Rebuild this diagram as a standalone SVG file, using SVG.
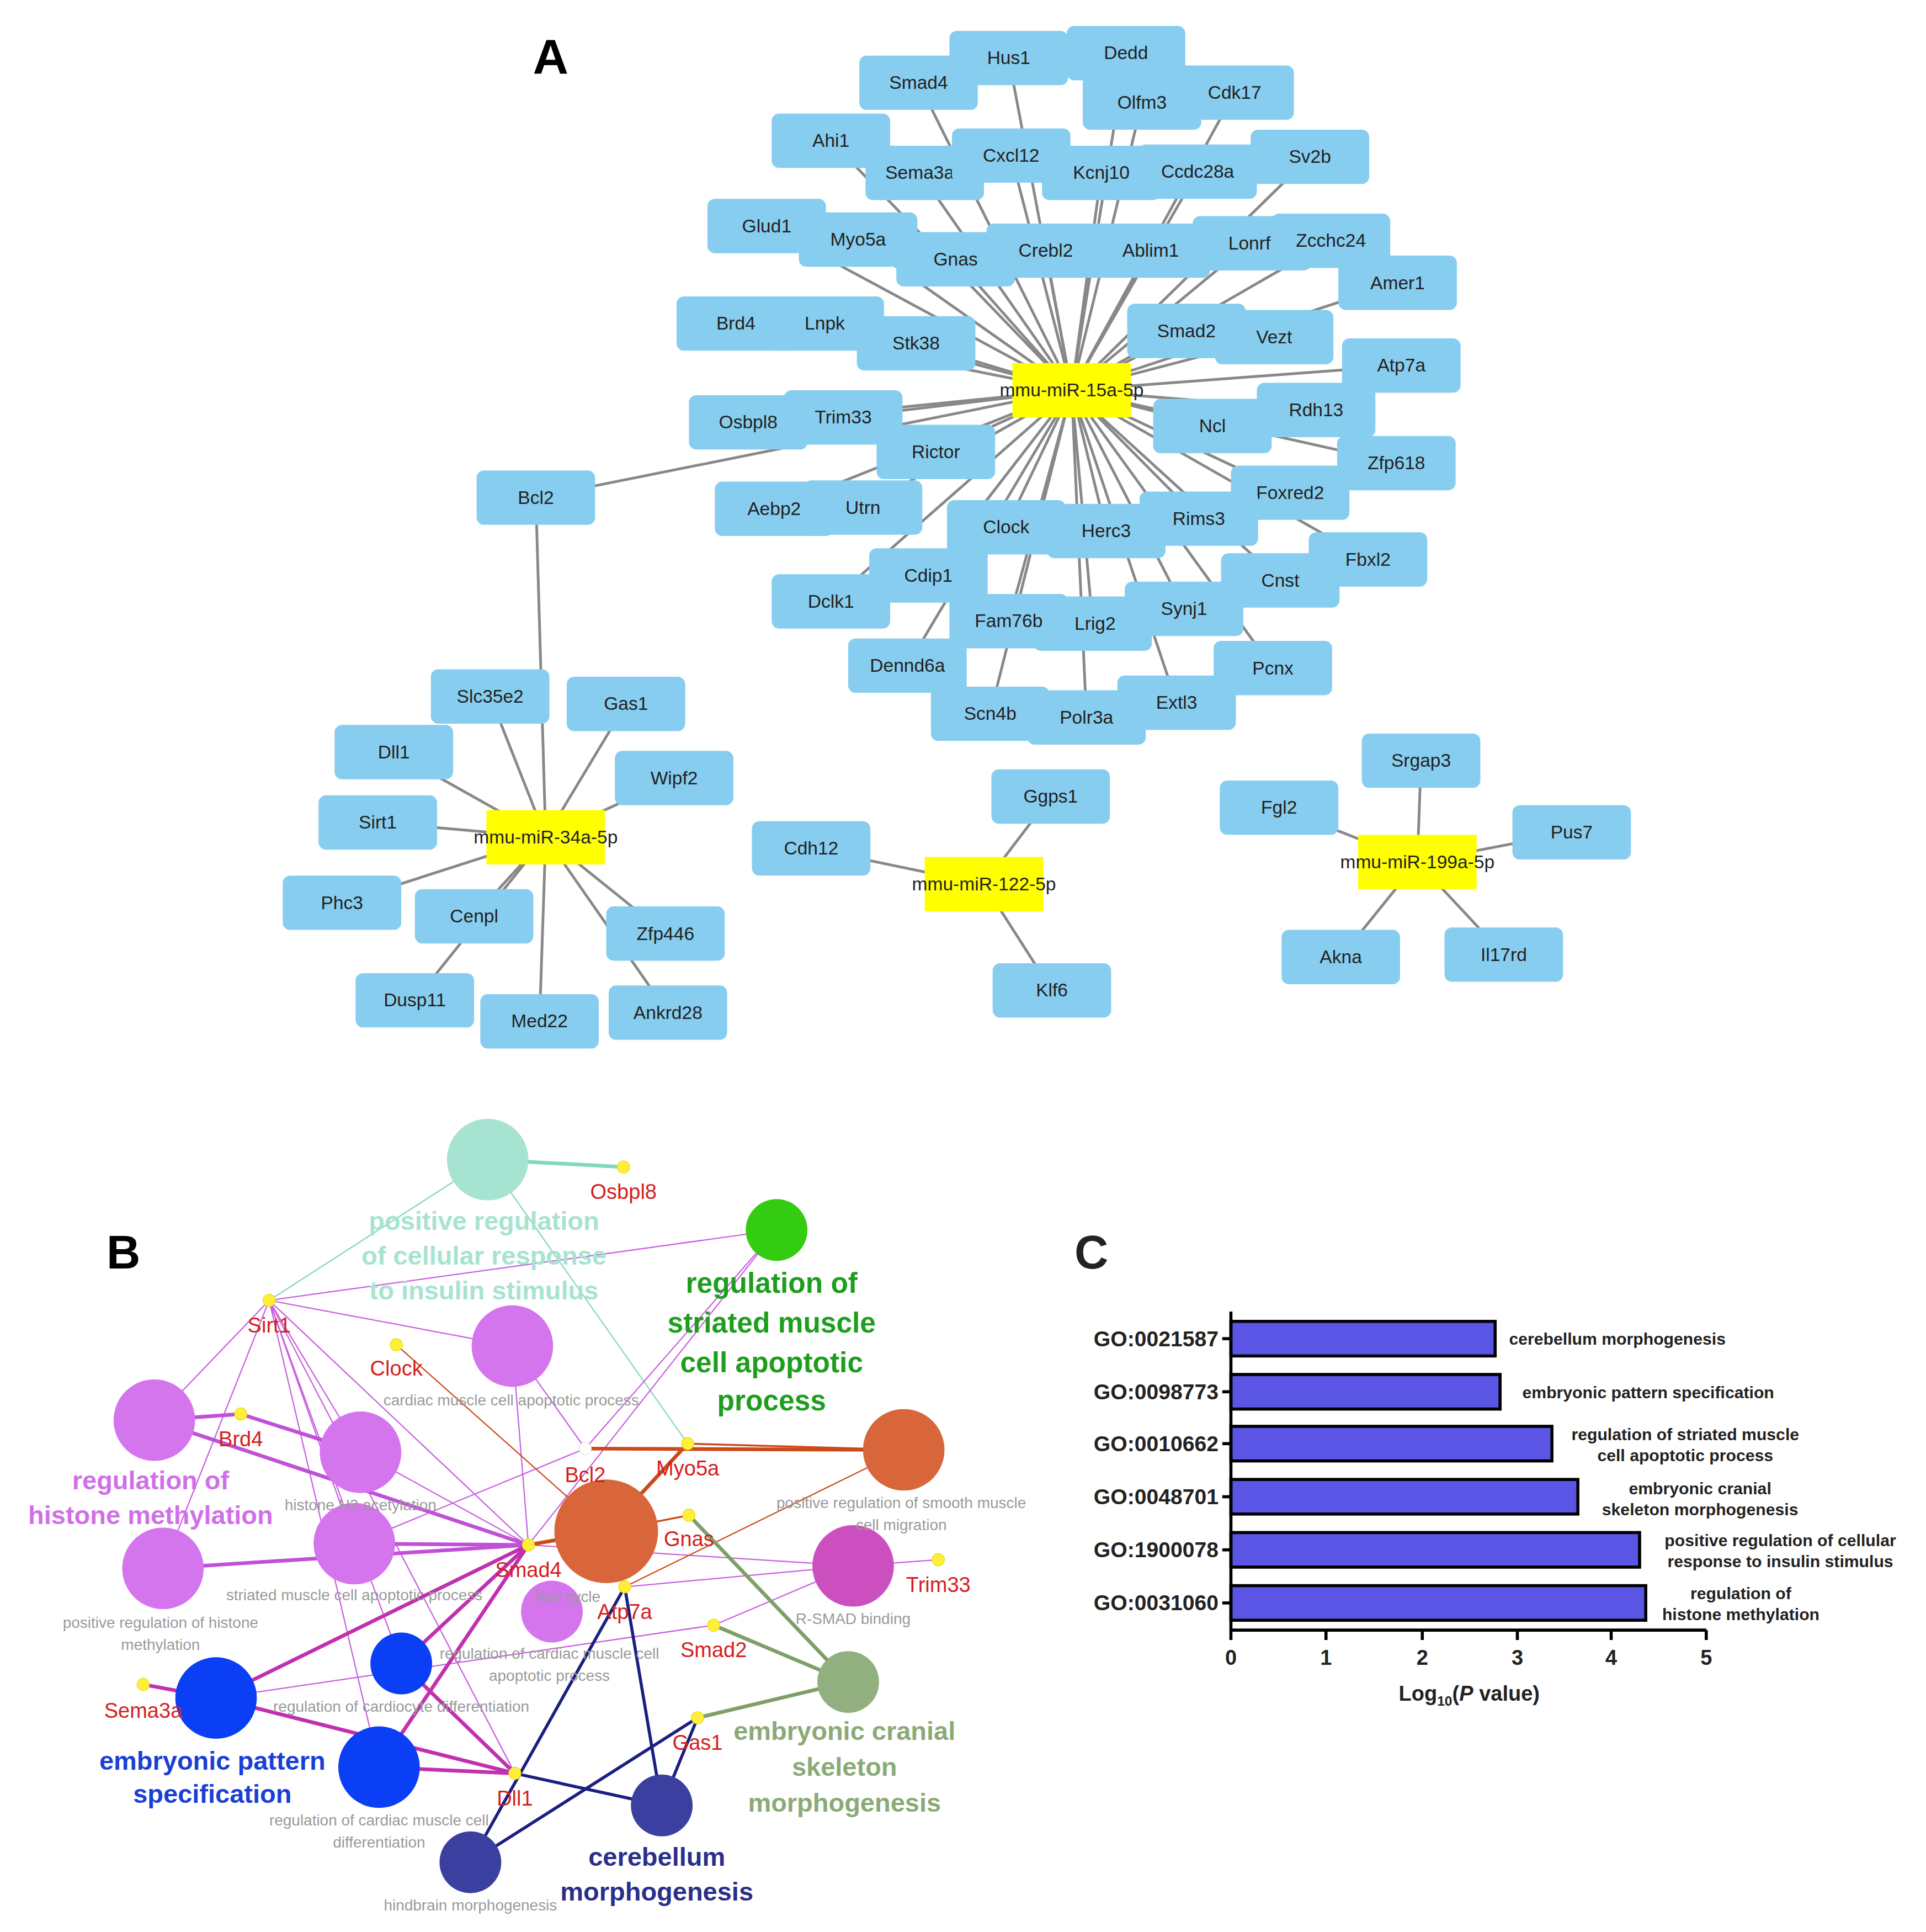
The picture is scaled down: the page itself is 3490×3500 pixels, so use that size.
<svg xmlns="http://www.w3.org/2000/svg" width="3490" height="3500" viewBox="0 0 3490 3500">
<style>
.n rect{fill:#87cdf0;rx:6px}
.h rect{fill:#ffff00}
.n text,.h text{font-family:"Liberation Sans",Arial,sans-serif;font-size:15px;text-anchor:middle;fill:#222}
.ea line{stroke:#888;stroke-width:2.2}
.lab{font-family:"Liberation Sans",Arial,sans-serif;font-weight:bold;text-anchor:middle}
.rd{font-family:"Liberation Sans",Arial,sans-serif;font-size:17px;fill:#d42020;text-anchor:middle}
.gr{font-family:"Liberation Sans",Arial,sans-serif;font-size:12.5px;fill:#9a9a9a;text-anchor:middle}
.dot{fill:#ffef3a;stroke:#e8d800;stroke-width:0.5}
.c text{font-family:"Liberation Sans",Arial,sans-serif;font-weight:bold;fill:#222}
</style>
<rect width="3490" height="3500" fill="#fff"/>
<g transform="scale(2.2372)">
<text x="446" y="60" class="lab" font-size="40" fill="#000">A</text>
<g class="ea" id="edgesA">
<line x1="868" y1="316" x2="817" y2="47"/><line x1="868" y1="316" x2="912" y2="43"/><line x1="868" y1="316" x2="744" y2="67"/><line x1="868" y1="316" x2="925" y2="83"/><line x1="868" y1="316" x2="1000" y2="75"/><line x1="868" y1="316" x2="673" y2="114"/><line x1="868" y1="316" x2="745" y2="140"/><line x1="868" y1="316" x2="819" y2="126"/><line x1="868" y1="316" x2="892" y2="140"/><line x1="868" y1="316" x2="970" y2="139"/><line x1="868" y1="316" x2="1061" y2="127"/><line x1="868" y1="316" x2="621" y2="183"/><line x1="868" y1="316" x2="695" y2="194"/><line x1="868" y1="316" x2="774" y2="210"/><line x1="868" y1="316" x2="847" y2="203"/><line x1="868" y1="316" x2="932" y2="203"/><line x1="868" y1="316" x2="1012" y2="197"/><line x1="868" y1="316" x2="1078" y2="195"/><line x1="868" y1="316" x2="1132" y2="229"/><line x1="868" y1="316" x2="596" y2="262"/><line x1="868" y1="316" x2="668" y2="262"/><line x1="868" y1="316" x2="742" y2="278"/><line x1="868" y1="316" x2="961" y2="268"/><line x1="868" y1="316" x2="1032" y2="273"/><line x1="868" y1="316" x2="1135" y2="296"/><line x1="868" y1="316" x2="606" y2="342"/><line x1="868" y1="316" x2="683" y2="338"/><line x1="868" y1="316" x2="982" y2="345"/><line x1="868" y1="316" x2="1066" y2="332"/><line x1="868" y1="316" x2="1131" y2="375"/><line x1="868" y1="316" x2="758" y2="366"/><line x1="868" y1="316" x2="434" y2="403"/><line x1="868" y1="316" x2="627" y2="412"/><line x1="868" y1="316" x2="699" y2="411"/><line x1="868" y1="316" x2="1045" y2="399"/><line x1="868" y1="316" x2="815" y2="427"/><line x1="868" y1="316" x2="896" y2="430"/><line x1="868" y1="316" x2="971" y2="420"/><line x1="868" y1="316" x2="1108" y2="453"/><line x1="868" y1="316" x2="752" y2="466"/><line x1="868" y1="316" x2="673" y2="487"/><line x1="868" y1="316" x2="1037" y2="470"/><line x1="868" y1="316" x2="959" y2="493"/><line x1="868" y1="316" x2="817" y2="503"/><line x1="868" y1="316" x2="885" y2="505"/><line x1="868" y1="316" x2="735" y2="539"/><line x1="868" y1="316" x2="1031" y2="541"/><line x1="868" y1="316" x2="953" y2="569"/><line x1="868" y1="316" x2="802" y2="578"/><line x1="868" y1="316" x2="880" y2="581"/>
<line x1="442" y1="678" x2="434" y2="403"/><line x1="442" y1="678" x2="397" y2="564"/><line x1="442" y1="678" x2="507" y2="570"/><line x1="442" y1="678" x2="319" y2="609"/><line x1="442" y1="678" x2="546" y2="630"/><line x1="442" y1="678" x2="306" y2="666"/><line x1="442" y1="678" x2="277" y2="731"/><line x1="442" y1="678" x2="384" y2="742"/><line x1="442" y1="678" x2="539" y2="756"/><line x1="442" y1="678" x2="336" y2="810"/><line x1="442" y1="678" x2="437" y2="827"/><line x1="442" y1="678" x2="541" y2="820"/>
<line x1="797" y1="716" x2="657" y2="687"/><line x1="797" y1="716" x2="851" y2="645"/><line x1="797" y1="716" x2="852" y2="802"/>
<line x1="1148" y1="698" x2="1151" y2="616"/><line x1="1148" y1="698" x2="1036" y2="654"/><line x1="1148" y1="698" x2="1273" y2="674"/><line x1="1148" y1="698" x2="1086" y2="775"/><line x1="1148" y1="698" x2="1218" y2="773"/>
</g>
<g id="nodesA">
<g class="n" id="Hus1"><rect x="769" y="25" width="96" height="44"/><text x="817" y="52">Hus1</text></g>
<g class="n" id="Dedd"><rect x="864" y="21" width="96" height="44"/><text x="912" y="48">Dedd</text></g>
<g class="n" id="Smad4"><rect x="696" y="45" width="96" height="44"/><text x="744" y="72">Smad4</text></g>
<g class="n" id="Olfm3"><rect x="877" y="61" width="96" height="44"/><text x="925" y="88">Olfm3</text></g>
<g class="n" id="Cdk17"><rect x="952" y="53" width="96" height="44"/><text x="1000" y="80">Cdk17</text></g>
<g class="n" id="Ahi1"><rect x="625" y="92" width="96" height="44"/><text x="673" y="119">Ahi1</text></g>
<g class="n" id="Sema3a"><rect x="701" y="118" width="96" height="44"/><text x="745" y="145">Sema3a</text></g>
<g class="n" id="Cxcl12"><rect x="771" y="104" width="96" height="44"/><text x="819" y="131">Cxcl12</text></g>
<g class="n" id="Kcnj10"><rect x="844" y="118" width="96" height="44"/><text x="892" y="145">Kcnj10</text></g>
<g class="n" id="Ccdc28a"><rect x="922" y="117" width="96" height="44"/><text x="970" y="144">Ccdc28a</text></g>
<g class="n" id="Sv2b"><rect x="1013" y="105" width="96" height="44"/><text x="1061" y="132">Sv2b</text></g>
<g class="n" id="Glud1"><rect x="573" y="161" width="96" height="44"/><text x="621" y="188">Glud1</text></g>
<g class="n" id="Myo5a"><rect x="647" y="172" width="96" height="44"/><text x="695" y="199">Myo5a</text></g>
<g class="n" id="Gnas"><rect x="726" y="188" width="96" height="44"/><text x="774" y="215">Gnas</text></g>
<g class="n" id="Crebl2"><rect x="799" y="181" width="96" height="44"/><text x="847" y="208">Crebl2</text></g>
<g class="n" id="Ablim1"><rect x="884" y="181" width="96" height="44"/><text x="932" y="208">Ablim1</text></g>
<g class="n" id="Lonrf"><rect x="966" y="175" width="96" height="44"/><text x="1012" y="202">Lonrf</text></g>
<g class="n" id="Zcchc24"><rect x="1030" y="173" width="96" height="44"/><text x="1078" y="200">Zcchc24</text></g>
<g class="n" id="Amer1"><rect x="1084" y="207" width="96" height="44"/><text x="1132" y="234">Amer1</text></g>
<g class="n" id="Brd4"><rect x="548" y="240" width="96" height="44"/><text x="596" y="267">Brd4</text></g>
<g class="n" id="Lnpk"><rect x="620" y="240" width="96" height="44"/><text x="668" y="267">Lnpk</text></g>
<g class="n" id="Stk38"><rect x="694" y="256" width="96" height="44"/><text x="742" y="283">Stk38</text></g>
<g class="n" id="Smad2"><rect x="913" y="246" width="96" height="44"/><text x="961" y="273">Smad2</text></g>
<g class="n" id="Vezt"><rect x="984" y="251" width="96" height="44"/><text x="1032" y="278">Vezt</text></g>
<g class="n" id="Atp7a"><rect x="1087" y="274" width="96" height="44"/><text x="1135" y="301">Atp7a</text></g>
<g class="n" id="Osbpl8"><rect x="558" y="320" width="96" height="44"/><text x="606" y="347">Osbpl8</text></g>
<g class="n" id="Trim33"><rect x="635" y="316" width="96" height="44"/><text x="683" y="343">Trim33</text></g>
<g class="n" id="Ncl"><rect x="934" y="323" width="96" height="44"/><text x="982" y="350">Ncl</text></g>
<g class="n" id="Rdh13"><rect x="1018" y="310" width="96" height="44"/><text x="1066" y="337">Rdh13</text></g>
<g class="n" id="Zfp618"><rect x="1083" y="353" width="96" height="44"/><text x="1131" y="380">Zfp618</text></g>
<g class="n" id="Rictor"><rect x="710" y="344" width="96" height="44"/><text x="758" y="371">Rictor</text></g>
<g class="n" id="Aebp2"><rect x="579" y="390" width="96" height="44"/><text x="627" y="417">Aebp2</text></g>
<g class="n" id="Utrn"><rect x="651" y="389" width="96" height="44"/><text x="699" y="416">Utrn</text></g>
<g class="n" id="Foxred2"><rect x="997" y="377" width="96" height="44"/><text x="1045" y="404">Foxred2</text></g>
<g class="n" id="Clock"><rect x="767" y="405" width="96" height="44"/><text x="815" y="432">Clock</text></g>
<g class="n" id="Herc3"><rect x="848" y="408" width="96" height="44"/><text x="896" y="435">Herc3</text></g>
<g class="n" id="Rims3"><rect x="923" y="398" width="96" height="44"/><text x="971" y="425">Rims3</text></g>
<g class="n" id="Fbxl2"><rect x="1060" y="431" width="96" height="44"/><text x="1108" y="458">Fbxl2</text></g>
<g class="n" id="Cdip1"><rect x="704" y="444" width="96" height="44"/><text x="752" y="471">Cdip1</text></g>
<g class="n" id="Dclk1"><rect x="625" y="465" width="96" height="44"/><text x="673" y="492">Dclk1</text></g>
<g class="n" id="Cnst"><rect x="989" y="448" width="96" height="44"/><text x="1037" y="475">Cnst</text></g>
<g class="n" id="Synj1"><rect x="911" y="471" width="96" height="44"/><text x="959" y="498">Synj1</text></g>
<g class="n" id="Lrig2"><rect x="837" y="483" width="96" height="44"/><text x="887" y="510">Lrig2</text></g>
<g class="n" id="Fam76b"><rect x="769" y="481" width="96" height="44"/><text x="817" y="508">Fam76b</text></g>
<g class="n" id="Dennd6a"><rect x="687" y="517" width="96" height="44"/><text x="735" y="544">Dennd6a</text></g>
<g class="n" id="Pcnx"><rect x="983" y="519" width="96" height="44"/><text x="1031" y="546">Pcnx</text></g>
<g class="n" id="Extl3"><rect x="905" y="547" width="96" height="44"/><text x="953" y="574">Extl3</text></g>
<g class="n" id="Scn4b"><rect x="754" y="556" width="96" height="44"/><text x="802" y="583">Scn4b</text></g>
<g class="n" id="Polr3a"><rect x="832" y="559" width="96" height="44"/><text x="880" y="586">Polr3a</text></g>
<g class="h" id="miR15a"><rect x="820" y="294" width="96" height="44"/><text x="868" y="321">mmu-miR-15a-5p</text></g>
<g class="n" id="Bcl2"><rect x="386" y="381" width="96" height="44"/><text x="434" y="408">Bcl2</text></g>
<g class="n" id="Slc35e2"><rect x="349" y="542" width="96" height="44"/><text x="397" y="569">Slc35e2</text></g>
<g class="n" id="Gas1"><rect x="459" y="548" width="96" height="44"/><text x="507" y="575">Gas1</text></g>
<g class="n" id="Dll1"><rect x="271" y="587" width="96" height="44"/><text x="319" y="614">Dll1</text></g>
<g class="n" id="Wipf2"><rect x="498" y="608" width="96" height="44"/><text x="546" y="635">Wipf2</text></g>
<g class="n" id="Sirt1"><rect x="258" y="644" width="96" height="44"/><text x="306" y="671">Sirt1</text></g>
<g class="n" id="Phc3"><rect x="229" y="709" width="96" height="44"/><text x="277" y="736">Phc3</text></g>
<g class="n" id="Cenpl"><rect x="336" y="720" width="96" height="44"/><text x="384" y="747">Cenpl</text></g>
<g class="n" id="Zfp446"><rect x="491" y="734" width="96" height="44"/><text x="539" y="761">Zfp446</text></g>
<g class="n" id="Dusp11"><rect x="288" y="788" width="96" height="44"/><text x="336" y="815">Dusp11</text></g>
<g class="n" id="Med22"><rect x="389" y="805" width="96" height="44"/><text x="437" y="832">Med22</text></g>
<g class="n" id="Ankrd28"><rect x="493" y="798" width="96" height="44"/><text x="541" y="825">Ankrd28</text></g>
<g class="h" id="miR34a"><rect x="394" y="656" width="96" height="44"/><text x="442" y="683">mmu-miR-34a-5p</text></g>
<g class="n" id="Cdh12"><rect x="609" y="665" width="96" height="44"/><text x="657" y="692">Cdh12</text></g>
<g class="n" id="Ggps1"><rect x="803" y="623" width="96" height="44"/><text x="851" y="650">Ggps1</text></g>
<g class="n" id="Klf6"><rect x="804" y="780" width="96" height="44"/><text x="852" y="807">Klf6</text></g>
<g class="h" id="miR122"><rect x="749" y="694" width="96" height="44"/><text x="797" y="721">mmu-miR-122-5p</text></g>
<g class="n" id="Srgap3"><rect x="1103" y="594" width="96" height="44"/><text x="1151" y="621">Srgap3</text></g>
<g class="n" id="Fgl2"><rect x="988" y="632" width="96" height="44"/><text x="1036" y="659">Fgl2</text></g>
<g class="n" id="Pus7"><rect x="1225" y="652" width="96" height="44"/><text x="1273" y="679">Pus7</text></g>
<g class="n" id="Akna"><rect x="1038" y="753" width="96" height="44"/><text x="1086" y="780">Akna</text></g>
<g class="n" id="Il17rd"><rect x="1170" y="751" width="96" height="44"/><text x="1218" y="778">Il17rd</text></g>
<g class="h" id="miR199a"><rect x="1100" y="676" width="96" height="44"/><text x="1148" y="703">mmu-miR-199a-5p</text></g>
</g>

<text x="100" y="1027" class="lab" font-size="38" fill="#000">B</text>
<g id="edgesB" fill="none" stroke-linecap="round">
<g stroke="#80d8c0"><line x1="395" y1="939" x2="505" y2="945" stroke-width="3"/><line x1="395" y1="939" x2="218" y2="1053" stroke-width="1"/><line x1="395" y1="939" x2="557" y2="1169" stroke-width="1"/></g>
<g stroke="#c860e0" stroke-width="1">
<line x1="218" y1="1053" x2="629" y2="996"/><line x1="218" y1="1053" x2="415" y2="1090"/><line x1="218" y1="1053" x2="125" y2="1150"/><line x1="218" y1="1053" x2="132" y2="1270"/><line x1="218" y1="1053" x2="292" y2="1176"/><line x1="218" y1="1053" x2="287" y2="1250"/><line x1="218" y1="1053" x2="428" y2="1251"/><line x1="218" y1="1053" x2="325" y2="1347"/><line x1="218" y1="1053" x2="307" y2="1431"/><line x1="218" y1="1053" x2="417" y2="1436"/>
<line x1="428" y1="1251" x2="629" y2="996"/><line x1="474" y1="1173" x2="629" y2="996"/><line x1="428" y1="1251" x2="415" y2="1090"/><line x1="474" y1="1173" x2="415" y2="1090"/><line x1="428" y1="1251" x2="691" y2="1268"/><line x1="428" y1="1251" x2="292" y2="1176"/><line x1="474" y1="1173" x2="287" y2="1250"/><line x1="578" y1="1316" x2="175" y2="1375"/><line x1="760" y1="1263" x2="691" y2="1268"/><line x1="506" y1="1285" x2="691" y2="1268"/><line x1="578" y1="1316" x2="691" y2="1268"/>
</g>
<g stroke="#c050d8" stroke-width="3"><line x1="195" y1="1145" x2="125" y2="1150"/><line x1="195" y1="1145" x2="292" y2="1176"/><line x1="125" y1="1150" x2="428" y2="1251"/><line x1="132" y1="1270" x2="428" y2="1251"/><line x1="287" y1="1250" x2="428" y2="1251"/></g>
<g stroke="#c030b0" stroke-width="3"><line x1="428" y1="1251" x2="175" y2="1375"/><line x1="428" y1="1251" x2="307" y2="1431"/><line x1="428" y1="1251" x2="325" y2="1347"/><line x1="116" y1="1364" x2="175" y2="1375"/><line x1="175" y1="1375" x2="417" y2="1436"/><line x1="307" y1="1431" x2="417" y2="1436"/><line x1="325" y1="1347" x2="417" y2="1436"/></g>
<g stroke="#cc4a1a"><line x1="474" y1="1173" x2="732" y2="1174" stroke-width="3"/><line x1="557" y1="1169" x2="732" y2="1174" stroke-width="1.5"/><line x1="557" y1="1169" x2="491" y2="1240" stroke-width="3"/><line x1="428" y1="1251" x2="491" y2="1240" stroke-width="3"/><line x1="558" y1="1227" x2="491" y2="1240" stroke-width="1.5"/><line x1="321" y1="1089" x2="491" y2="1240" stroke-width="1"/><line x1="506" y1="1285" x2="732" y2="1174" stroke-width="1"/></g>
<g stroke="#7ea068" stroke-width="3"><line x1="558" y1="1227" x2="687" y2="1362"/><line x1="578" y1="1316" x2="687" y2="1362"/><line x1="565" y1="1391" x2="687" y2="1362"/></g>
<g stroke="#1a1f80" stroke-width="2.5"><line x1="417" y1="1436" x2="536" y2="1462"/><line x1="506" y1="1285" x2="381" y2="1508"/><line x1="506" y1="1285" x2="536" y2="1462"/><line x1="565" y1="1391" x2="381" y2="1508"/><line x1="565" y1="1391" x2="536" y2="1462"/></g>
</g>
<g id="nodesB">
<circle cx="395" cy="939" r="33" fill="#a6e3d0"/>
<circle cx="629" cy="996" r="25" fill="#33cc11"/>
<g fill="#d475ee"><circle cx="415" cy="1090" r="33"/><circle cx="125" cy="1150" r="33"/><circle cx="292" cy="1176" r="33"/><circle cx="132" cy="1270" r="33"/><circle cx="287" cy="1250" r="33"/><circle cx="447" cy="1305" r="25"/></g>
<circle cx="491" cy="1240" r="42" fill="#d9663a"/>
<circle cx="732" cy="1174" r="33" fill="#d9663a"/>
<circle cx="691" cy="1268" r="33" fill="#cc4fc0"/>
<g fill="#0b3ff5"><circle cx="175" cy="1375" r="33"/><circle cx="325" cy="1347" r="25"/><circle cx="307" cy="1431" r="33"/></g>
<g fill="#3a3fa0"><circle cx="536" cy="1462" r="25"/><circle cx="381" cy="1508" r="25"/></g>
<circle cx="687" cy="1362" r="25" fill="#92b07f"/>
<g class="dot"><circle cx="505" cy="945" r="5"/><circle cx="218" cy="1053" r="5"/><circle cx="321" cy="1089" r="5"/><circle cx="195" cy="1145" r="5"/><circle cx="474" cy="1173" r="5" fill="#fff" stroke="#ddd"/><circle cx="557" cy="1169" r="5"/><circle cx="558" cy="1227" r="5"/><circle cx="428" cy="1251" r="5"/><circle cx="506" cy="1285" r="5"/><circle cx="760" cy="1263" r="5"/><circle cx="578" cy="1316" r="5"/><circle cx="116" cy="1364" r="5"/><circle cx="565" cy="1391" r="5"/><circle cx="417" cy="1436" r="5"/></g>
<g class="gr"><text x="414" y="1138">cardiac muscle cell apoptotic process</text><text x="292" y="1223">histone H3 acetylation</text><text x="730" y="1221">positive regulation of smooth muscle</text><text x="730" y="1239">cell migration</text><text x="287" y="1296">striated muscle cell apoptotic process</text><text x="130" y="1318">positive regulation of histone</text><text x="130" y="1336">methylation</text><text x="460" y="1297">hair cycle</text><text x="691" y="1315">R-SMAD binding</text><text x="445" y="1343">regulation of cardiac muscle cell</text><text x="445" y="1361">apoptotic process</text><text x="325" y="1386">regulation of cardiocyte differentiation</text><text x="307" y="1478">regulation of cardiac muscle cell</text><text x="307" y="1496">differentiation</text><text x="381" y="1547">hindbrain morphogenesis</text></g>
<g class="rd"><text x="505" y="971">Osbpl8</text><text x="218" y="1079">Sirt1</text><text x="321" y="1114">Clock</text><text x="195" y="1171">Brd4</text><text x="474" y="1200">Bcl2</text><text x="557" y="1195">Myo5a</text><text x="558" y="1252">Gnas</text><text x="428" y="1277">Smad4</text><text x="506" y="1311">Atp7a</text><text x="760" y="1289">Trim33</text><text x="578" y="1342">Smad2</text><text x="116" y="1391">Sema3a</text><text x="565" y="1417">Gas1</text><text x="417" y="1462">Dll1</text></g>
<g class="lab" font-size="21"><text x="392" y="996" fill="#a6e3d0">positive regulation</text><text x="392" y="1024" fill="#a6e3d0">of cellular response</text><text x="392" y="1052" fill="#a6e3d0">to insulin stimulus</text>
<text x="625" y="1047" fill="#1e9e1e" font-size="23">regulation of</text><text x="625" y="1079" fill="#1e9e1e" font-size="23">striated muscle</text><text x="625" y="1111" fill="#1e9e1e" font-size="23">cell apoptotic</text><text x="625" y="1142" fill="#1e9e1e" font-size="23">process</text>
<text x="122" y="1206" fill="#d070e8">regulation of</text><text x="122" y="1234" fill="#d070e8">histone methylation</text>
<text x="172" y="1433" fill="#1a3fd6">embryonic pattern</text><text x="172" y="1460" fill="#1a3fd6">specification</text>
<text x="532" y="1511" fill="#2a2f8a">cerebellum</text><text x="532" y="1539" fill="#2a2f8a">morphogenesis</text>
<text x="684" y="1409" fill="#8aaa78">embryonic cranial</text><text x="684" y="1438" fill="#8aaa78">skeleton</text><text x="684" y="1467" fill="#8aaa78">morphogenesis</text></g>
</g>

<g class="c" id="chartC">
<text x="884" y="1027" font-size="38" text-anchor="middle" fill="#000">C</text>
<g fill="#5b55e6" stroke="#000" stroke-width="2.5">
<rect x="997" y="1070" width="214" height="28"/><rect x="997" y="1113" width="218" height="28"/><rect x="997" y="1155" width="260" height="28"/><rect x="997" y="1198" width="281" height="28"/><rect x="997" y="1241" width="331" height="28"/><rect x="997" y="1284" width="336" height="28"/>
</g>
<g stroke="#000" stroke-width="2.5"><line x1="997" y1="1062" x2="997" y2="1320"/><line x1="996" y1="1320" x2="1382" y2="1320"/>
<line x1="997" y1="1320" x2="997" y2="1328"/><line x1="1074" y1="1320" x2="1074" y2="1328"/><line x1="1152" y1="1320" x2="1152" y2="1328"/><line x1="1229" y1="1320" x2="1229" y2="1328"/><line x1="1305" y1="1320" x2="1305" y2="1328"/><line x1="1382" y1="1320" x2="1382" y2="1328"/>
<line x1="990" y1="1084" x2="997" y2="1084"/><line x1="990" y1="1127" x2="997" y2="1127"/><line x1="990" y1="1169" x2="997" y2="1169"/><line x1="990" y1="1212" x2="997" y2="1212"/><line x1="990" y1="1255" x2="997" y2="1255"/><line x1="990" y1="1298" x2="997" y2="1298"/></g>
<g font-size="17.5" text-anchor="end"><text x="987" y="1090">GO:0021587</text><text x="987" y="1133">GO:0098773</text><text x="987" y="1175">GO:0010662</text><text x="987" y="1218">GO:0048701</text><text x="987" y="1261">GO:1900078</text><text x="987" y="1304">GO:0031060</text></g>
<g font-size="13.5" text-anchor="middle"><text x="1310" y="1089">cerebellum morphogenesis</text><text x="1335" y="1132">embryonic pattern specification</text><text x="1365" y="1166">regulation of striated muscle</text><text x="1365" y="1183">cell apoptotic process</text><text x="1377" y="1210">embryonic cranial</text><text x="1377" y="1227">skeleton morphogenesis</text><text x="1442" y="1252">positive regulation of cellular</text><text x="1442" y="1269">response to insulin stimulus</text><text x="1410" y="1295">regulation of</text><text x="1410" y="1312">histone methylation</text></g>
<g font-size="17" text-anchor="middle"><text x="997" y="1348">0</text><text x="1074" y="1348">1</text><text x="1152" y="1348">2</text><text x="1229" y="1348">3</text><text x="1305" y="1348">4</text><text x="1382" y="1348">5</text></g>
<text x="1190" y="1377" font-size="17" text-anchor="middle">Log<tspan font-size="11" dy="4">10</tspan><tspan dy="-4">(</tspan><tspan font-style="italic">P</tspan> value)</text>
</g>
</g>
</svg>
